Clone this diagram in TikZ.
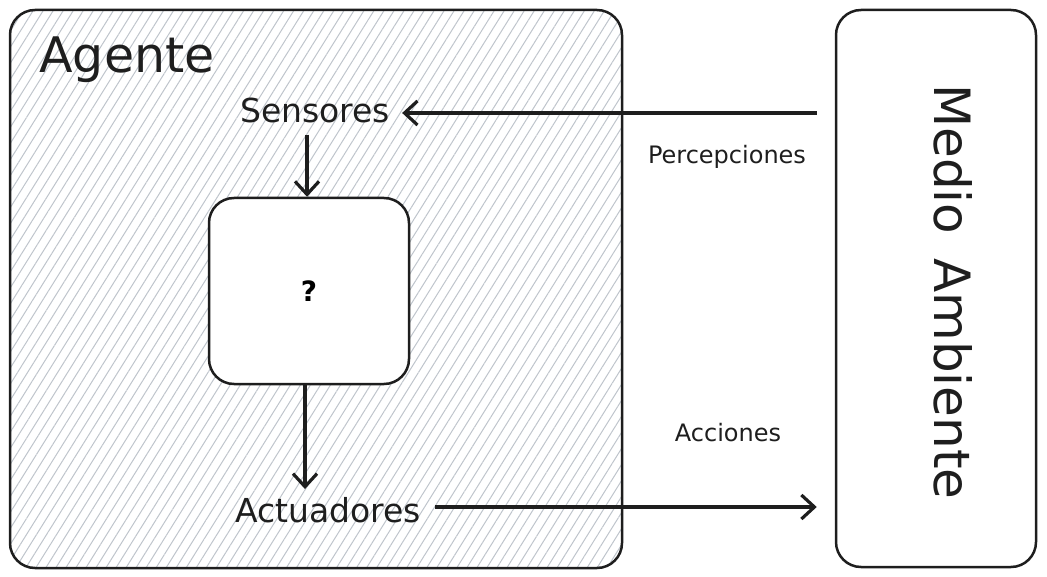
\documentclass[tikz,border=0pt]{standalone}
\usepackage{fontspec}
\setmainfont{DejaVu Sans}
\usetikzlibrary{arrows.meta,patterns.meta,calc}
\definecolor{hatch}{HTML}{BFC5CC}
\definecolor{ink}{HTML}{1E1E1E}
\begin{document}
\begin{tikzpicture}[x=1pt,y=-1pt,
  box/.style={draw=ink,line width=2.5pt,rounded corners=25pt,inner sep=0pt},
  lbl/.style={text=ink,inner sep=0pt},
  arr/.style={draw=ink,line width=3.2pt,-{Straight Barb[length=13pt,width=24pt]}},
  midfont/.style={font=\fontsize{33}{36}\selectfont},
  smallfont/.style={font=\fontsize{24}{28}\selectfont}]
\useasboundingbox (0,0) rectangle (1047,577);
\node[box,minimum width=612pt,minimum height=558pt,pattern={Lines[angle=58,distance=8.5pt,line width=1pt]},pattern color=hatch] (agent) at (316,289) {};
\node[lbl,font=\fontsize{49}{54}\selectfont] (agtxt) at (127,60) {Agente};
\node[lbl,midfont] (sens) at (315,110) {Sensores};
\node[box,fill=white,minimum width=200pt,minimum height=186pt,font=\bfseries\fontsize{28}{32}\selectfont] (q) at (309,291) {?};
\node[lbl,midfont] (act) at (328,510) {Actuadores};
\node[box,minimum width=200pt,minimum height=557pt] (med) at (936,288.5) {};
\node[lbl,rotate=-90,font=\fontsize{50}{55}\selectfont] (medtxt) at (953,292) {Medio\hspace{8pt} Ambiente};
\node[lbl,smallfont] (perc) at (727,157) {Percepciones};
\node[lbl,smallfont] (acc) at (728,433) {Acciones};
\draw[arr,shorten <=18pt] (med.west |- 0,113) -- ($(sens.east)+(12,3)$);
\draw[arr,shorten <=12pt] ([xshift=-2pt]q.north |- sens.south) -- ([xshift=-2pt]q.north);
\draw[arr,shorten >=8pt] ([xshift=-4pt]q.south) -- ([xshift=-4pt]q.south |- act.north);
\draw[arr,shorten >=18pt] ($(act.east)+(14,-3)$) -- (med.west |- 0,507);
\end{tikzpicture}
\end{document}
